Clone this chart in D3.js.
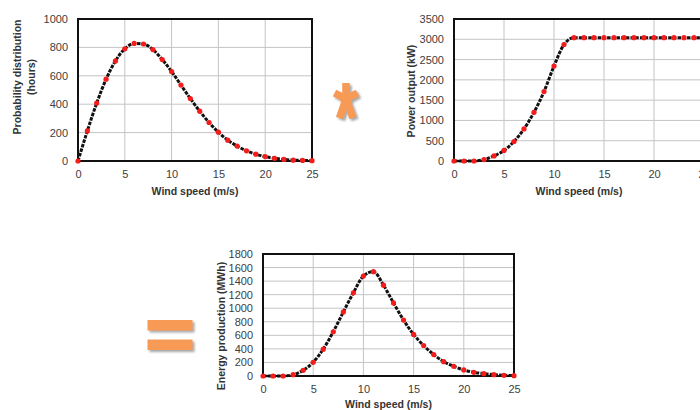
<!DOCTYPE html>
<html>
<head>
<meta charset="utf-8">
<script src="https://cdn.jsdelivr.net/npm/d3@7/dist/d3.min.js"></script>
<style>
  html, body { margin: 0; padding: 0; background: #fff; }
  svg { display: block; }
  text { font-family: "Liberation Sans", Arial, sans-serif; }
</style>
</head>
<body>
<svg id="chart" width="700" height="410"></svg>
<script>
// Wind speed bins (m/s)
const windSpeed = [0,1,2,3,4,5,6,7,8,9,10,11,12,13,14,15,16,17,18,19,20,21,22,23,24,25];

// Hours per year spent in each wind speed bin
const hours = [0,212,408,576,705,790,828,824,785,714,630,535,440,351,271,203,147,105,72,48,31,19,11,6,4,2];

// Turbine power curve (kW)
const power = [0,0,0,35,125,260,480,790,1200,1710,2340,2870,3040,3040,3040,3040,3040,3040,3040,3040,3040,3040,3040,3040,3040,3040];

// Energy produced in each bin (MWh)
const energy = [0,0,0,20,84,203,396,653,945,1227,1474,1539,1340,1078,825,613,450,316,212,143,89,54,35,20,10,5];

const xTicks = [0,5,10,15,20,25];
const hoursTicks = [0,200,400,600,800,1000];
const powerTicks = [0,500,1000,1500,2000,2500,3000,3500];
const energyTicks = [0,200,400,600,800,1000,1200,1400,1600,1800];

const svg = d3.select("#chart");

const defs = svg.append("defs");
const shadow = defs.append("filter").attr("id", "shade")
  .attr("x", "-30%").attr("y", "-30%").attr("width", "170%").attr("height", "170%");
shadow.append("feDropShadow")
  .attr("dx", 2).attr("dy", 2).attr("stdDeviation", 1.3)
  .attr("flood-color", "#777").attr("flood-opacity", 0.65);

function panel(cfg) {
  const g = svg.append("g");
  const x = d3.scaleLinear().domain([0, 25]).range([cfg.left, cfg.right]);
  const y = d3.scaleLinear().domain([0, cfg.yMax]).range([cfg.bottom, cfg.top]);

  // grid
  g.append("g").selectAll("line").data(xTicks).join("line")
    .attr("x1", d => x(d)).attr("x2", d => x(d))
    .attr("y1", cfg.top).attr("y2", cfg.bottom)
    .attr("stroke", "#c4c4c4").attr("stroke-width", 1);
  g.append("g").selectAll("line").data(cfg.yTicks).join("line")
    .attr("x1", cfg.left).attr("x2", cfg.right)
    .attr("y1", d => y(d)).attr("y2", d => y(d))
    .attr("stroke", "#c4c4c4").attr("stroke-width", 1);

  // axes (labels only; the frame is drawn separately)
  const xAxis = g.append("g").attr("transform", `translate(0,${cfg.bottom})`)
    .call(d3.axisBottom(x).tickValues(xTicks).tickSize(0).tickPadding(9));
  const yAxis = g.append("g").attr("transform", `translate(${cfg.left},0)`)
    .call(d3.axisLeft(y).tickValues(cfg.yTicks).tickSize(0).tickPadding(10).tickFormat(d3.format("d")));
  [xAxis, yAxis].forEach(a => {
    a.select(".domain").remove();
    a.selectAll("text").attr("font-size", 11).attr("fill", "#404040")
      .attr("font-family", "'Liberation Sans', Arial, sans-serif");
  });

  // frame
  g.append("rect")
    .attr("x", cfg.left).attr("y", cfg.top)
    .attr("width", cfg.right - cfg.left).attr("height", cfg.bottom - cfg.top)
    .attr("fill", "none").attr("stroke", "#111").attr("stroke-width", 2);

  // titles
  g.append("text")
    .attr("x", (cfg.left + cfg.right) / 2).attr("y", cfg.xTitleY)
    .attr("text-anchor", "middle").attr("font-size", 10.5).attr("font-weight", "bold")
    .attr("fill", "#333").text("Wind speed (m/s)");
  cfg.yTitle.forEach((t, i) => {
    g.append("text")
      .attr("transform", `translate(${cfg.yTitleX[i]},${cfg.yTitleCY}) rotate(-90)`)
      .attr("text-anchor", "middle").attr("dominant-baseline", "central")
      .attr("font-size", 10.5).attr("font-weight", "bold")
      .attr("fill", "#333").text(t);
  });

  // series
  const pts = windSpeed.map((v, i) => [v, cfg.values[i]]);
  const line = d3.line().x(d => x(d[0])).y(d => y(d[1])).curve(d3.curveMonotoneX);
  g.append("path").datum(pts).attr("d", line)
    .attr("fill", "none").attr("stroke", "#111").attr("stroke-width", 3)
    .attr("stroke-dasharray", "3.5,1.2");
  g.append("g").selectAll("circle").data(pts).join("circle")
    .attr("cx", d => x(d[0])).attr("cy", d => y(d[1])).attr("r", 2.6)
    .attr("fill", "#f51c1c");
}

panel({
  left: 78, right: 312, top: 19, bottom: 161, yMax: 1000,
  yTicks: hoursTicks, values: hours, xTitleY: 195,
  yTitle: ["Probability distribution", "(hours)"], yTitleX: [17, 31], yTitleCY: 77
});

panel({
  left: 454, right: 704, top: 19, bottom: 161, yMax: 3500,
  yTicks: powerTicks, values: power, xTitleY: 195,
  yTitle: ["Power output (kW)"], yTitleX: [411], yTitleCY: 91
});

panel({
  left: 263, right: 514, top: 254, bottom: 376, yMax: 1800,
  yTicks: energyTicks, values: energy, xTitleY: 408,
  yTitle: ["Energy production (MWh)"], yTitleX: [221], yTitleCY: 326
});

// operator symbols between the panels
const orange = "#f79a55";
const star = svg.append("g").attr("filter", "url(#shade)");
const c = [346, 99];
const arms = [[346, 83], [334.5, 93], [357.5, 93], [339.5, 118], [353, 118]];
star.append("circle").attr("cx", c[0]).attr("cy", c[1] + 1).attr("r", 5.5).attr("fill", orange);
star.selectAll("line").data(arms).join("line")
  .attr("x1", c[0]).attr("y1", c[1])
  .attr("x2", d => d[0]).attr("y2", d => d[1])
  .attr("stroke", orange).attr("stroke-width", 7.5);

const eq = svg.append("g").attr("filter", "url(#shade)");
eq.selectAll("rect").data([320, 339.5]).join("rect")
  .attr("x", 147.5).attr("y", d => d).attr("width", 45).attr("height", 10.5)
  .attr("fill", orange);
</script>
</body>
</html>
